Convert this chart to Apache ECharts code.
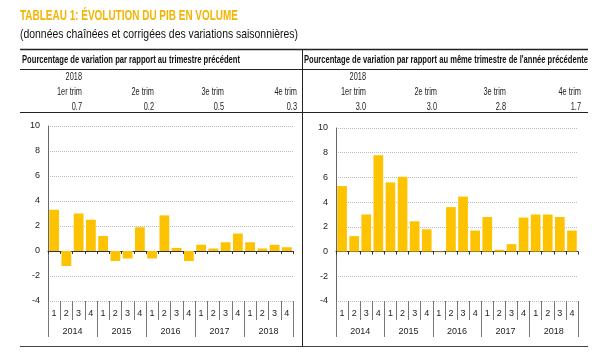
<!DOCTYPE html>
<html><head><meta charset="utf-8">
<script src="https://cdn.jsdelivr.net/npm/echarts@6/dist/echarts.min.js"></script>
<style>html,body{margin:0;padding:0;background:#fff}#c{width:600px;height:360px}</style>
</head><body><div id="c"></div>
<script>
// ---- data ----
const years = ['2014', '2015', '2016', '2017', '2018'];
const quarters = ['1', '2', '3', '4'];
const qoq = [3.3, -1.2, 3.0, 2.5, 1.2, -0.8, -0.6, 1.9, -0.6, 2.85, 0.25, -0.8, 0.5, 0.2, 0.7, 1.4, 0.7, 0.2, 0.5, 0.3];
const yoy = [5.3, 1.25, 3.0, 7.8, 5.6, 6.05, 2.45, 1.8, -0.05, 3.6, 4.45, 1.7, 2.8, 0.15, 0.6, 2.75, 3.0, 3.0, 2.8, 1.7];
const tableYear = '2018';
const tableQuarters = ['1er trim', '2e trim', '3e trim', '4e trim'];
const qoqTable = ['0.7', '0.2', '0.5', '0.3'];
const yoyTable = ['3.0', '3.0', '2.8', '1.7'];
const yMin = -4, yMax = 10, yStep = 2;
const titleText = 'TABLEAU 1: ÉVOLUTION DU PIB EN VOLUME';
const subtitleText = '(données chaînées et corrigées des variations saisonnières)';
const headLeft = 'Pourcentage de variation par rapport au trimestre précédent';
const headRight = "Pourcentage de variation par rapport au même trimestre de l'année précédente";

// ---- build ----
const cats = [];
years.forEach(y => quarters.forEach(q => cats.push(y + '-' + q)));
const FONT = "'Liberation Sans', Arial, sans-serif";
const GOLD = '#FDC300';

const mctx = document.createElement('canvas').getContext('2d');
function measure(t, font) { mctx.font = font; return mctx.measureText(t).width; }

const grids = [
  { left: 48, right: 307, top: 126, bottom: 59 },
  { left: 336, right: 22, top: 128, bottom: 59 }
];

const xAxes = [], yAxes = [], series = [];
[qoq, yoy].forEach((vals, g) => {
  const base = xAxes.length;
  xAxes.push({
    type: 'category', gridIndex: g, data: cats,
    axisLine: { onZero: true, lineStyle: { color: '#333', width: 1 } },
    axisTick: { show: true, interval: 0, length: 3, lineStyle: { color: '#333' } },
    axisLabel: { show: false }, splitLine: { show: false }
  });
  xAxes.push({
    type: 'category', gridIndex: g, data: cats, position: 'bottom',
    axisLine: { show: false, onZero: false },
    axisTick: { show: true, interval: 0, length: 19, lineStyle: { color: '#777' } },
    axisLabel: { interval: 0, margin: 8, fontSize: 9, color: '#222', fontFamily: FONT,
      formatter: v => v.split('-')[1] },
    splitLine: { show: false }
  });
  xAxes.push({
    type: 'category', gridIndex: g, data: years, position: 'bottom',
    axisLine: { show: false, onZero: false },
    axisTick: { show: true, interval: 0, length: 36, lineStyle: { color: '#777' } },
    axisLabel: { interval: 0, margin: 26, fontSize: 9, color: '#222', fontFamily: FONT },
    splitLine: { show: false }
  });
  yAxes.push({
    type: 'value', gridIndex: g, min: yMin, max: yMax, interval: yStep,
    axisLine: { show: true, lineStyle: { color: '#666' } },
    axisTick: { show: false },
    axisLabel: { margin: 8, fontSize: 9, color: '#222', fontFamily: FONT },
    splitLine: { show: true, lineStyle: { color: '#bbb', type: [1, 1] } }
  });
  series.push({
    type: 'bar', xAxisIndex: base, yAxisIndex: g, data: vals,
    barCategoryGap: '20%', itemStyle: { color: GOLD }, silent: true
  });
});

const graphic = [];
// text fitted horizontally to a target width (condensed look)
function fitText(x, y, t, font, targetW, fill, align) {
  const sx = targetW / measure(t, font);
  graphic.push({ type: 'text', x: x, y: y, scaleX: sx,
    style: { text: t, fill: fill, font: font, align: align || 'left', verticalAlign: 'middle' } });
}
function line(x1, y1, x2, y2, c, w) {
  graphic.push({ type: 'line', shape: { x1, y1, x2, y2 }, style: { stroke: c, lineWidth: w } });
}
fitText(20, 16, titleText, 'bold 15px ' + FONT, 218, '#F5B400');
fitText(20, 34, subtitleText, '13px ' + FONT, 278, '#111');
line(20, 49.5, 588, 49.5, '#222', 1.5);
line(20, 69.5, 588, 69.5, '#222', 1);
line(20, 112.5, 588, 112.5, '#222', 1);
line(20, 346.5, 588, 346.5, '#444', 1);
line(302.5, 49, 302.5, 347, '#222', 1);
fitText(22, 60, headLeft, 'bold 10.5px ' + FONT, 218, '#111');
fitText(304, 60, headRight, 'bold 10.5px ' + FONT, 284, '#111');

const TFONT = '11px ' + FONT;
const tScale = 25 / measure('1er trim', TFONT);
function rtxt(x, y, t) {
  graphic.push({ type: 'text', x: x, y: y, scaleX: tScale,
    style: { text: t, fill: '#222', font: TFONT, align: 'right', verticalAlign: 'middle' } });
}
const colsL = [82, 154, 224, 297];
const colsR = [366, 437, 506, 581];
rtxt(colsL[0], 77, tableYear);
rtxt(colsR[0], 77, tableYear);
tableQuarters.forEach((q, i) => {
  rtxt(colsL[i], 92, q);
  rtxt(colsR[i], 92, q);
  rtxt(colsL[i], 107, qoqTable[i]);
  rtxt(colsR[i], 107, yoyTable[i]);
});

const chart = echarts.init(document.getElementById('c'), null, { renderer: 'canvas' });
chart.setOption({
  animation: false,
  textStyle: { fontFamily: FONT },
  grid: grids, xAxis: xAxes, yAxis: yAxes, series: series, graphic: graphic
});
</script></body></html>
